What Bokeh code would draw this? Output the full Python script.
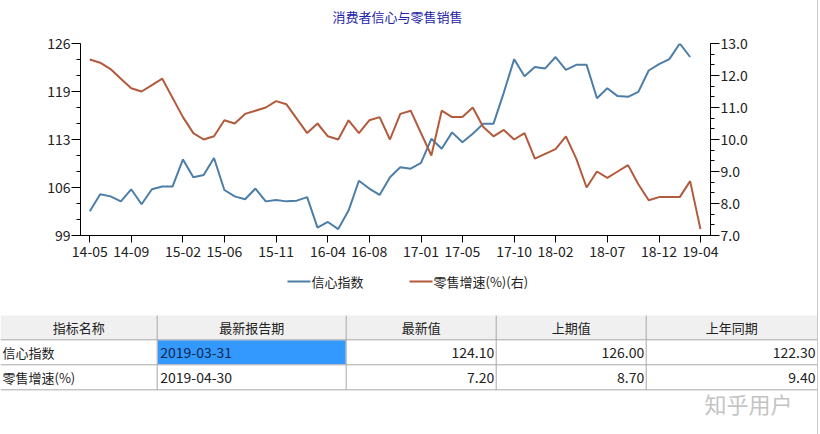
import pandas as pd
from bokeh.plotting import figure
from bokeh.models import (Range1d, LinearAxis, FixedTicker, CustomJSTickFormatter,
                          PrintfTickFormatter, Div)
from bokeh.layouts import column, row
from bokeh.embed import file_html
from bokeh.resources import INLINE
from bokeh.core.properties import value

# ---------------- data ----------------
months = [p.strftime("%y-%m") for p in pd.period_range("2014-05", "2019-04", freq="M")]

confidence = [
    102.4, 104.8, 104.5, 103.8, 105.5, 103.4, 105.5, 105.9,            # 2014-05..12
    105.9, 109.7, 107.2, 107.5, 109.9, 105.4, 104.5, 104.1, 105.6, 103.8, 104.0, 103.8,  # 2015
    103.9, 104.4, 100.1, 100.9, 99.9, 102.5, 106.7, 105.6, 104.7, 107.2, 108.6, 108.4,    # 2016
    109.2, 112.6, 111.2, 113.5, 112.1, 113.3, 114.7, 114.7, 119.1, 123.8, 121.4, 122.7,   # 2017
    122.5, 124.1, 122.3, 123.0, 123.0, 118.3, 119.7, 118.6, 118.5, 119.2, 122.2, 123.1,   # 2018
    123.8, 126.0, 124.1, None,                                             # 2019-01..04
]

retail = [
    12.5, 12.4, 12.2, 11.9, 11.6, 11.5, 11.7, 11.9,                        # 2014-05..12
    None, 10.7, 10.2, 10.0, 10.1, 10.6, 10.5, 10.8, 10.9, 11.0, 11.2, 11.1,  # 2015
    None, 10.2, 10.5, 10.1, 10.0, 10.6, 10.2, 10.6, 10.7, 10.0, 10.8, 10.9,  # 2016
    None, 9.5, 10.9, 10.7, 10.7, 11.0, 10.4, 10.1, 10.3, 10.0, 10.2, 9.4,    # 2017
    None, 9.7, 10.1, 9.4, 8.5, 9.0, 8.8, 9.0, 9.2, 8.6, 8.1, 8.2,            # 2018
    None, 8.2, 8.7, 7.2,                                                   # 2019-01..04
]

tick_labels = ["14-05", "14-09", "15-02", "15-06", "15-11", "16-04", "16-08",
               "17-01", "17-05", "17-10", "18-02", "18-07", "18-12", "19-04"]

left_ticks = [99, 105.75, 112.5, 119.25, 126]
right_ticks = [7, 8, 9, 10, 11, 12, 13]

title_text = "消费者信心与零售销售"
series_names = ["信心指数", "零售增速(%)(右)"]

table_header = ["指标名称", "最新报告期", "最新值", "上期值", "上年同期"]
table_names = ["信心指数", "零售增速(%)"]
table_dates = ["2019-03-31", "2019-04-30"]
table_latest = ["124.10", "7.20"]
table_prev = ["126.00", "8.70"]
table_yoy = ["122.30", "9.40"]
watermark = "知乎用户"

# ---------------- styles ----------------
BLUE = "#4d7ea8"
RED = "#b35a3c"
FONT = "Noto Sans CJK SC"
TXT = "#222222"
GRIDC = "#a8a8a8"

x_conf = [i for i, v in enumerate(confidence) if v is not None]
y_conf = [v for v in confidence if v is not None]
x_ret = [i for i, v in enumerate(retail) if v is not None]
y_ret = [v for v in retail if v is not None]
tick_pos = [months.index(t) for t in tick_labels]

W = 817
H0, H1, H2 = 30, 240, 164


def no_align(fig):
    try:
        fig.frame_align = False
    except Exception:
        pass


def pixel_fig(h):
    f = figure(width=W, height=h, x_range=Range1d(0, W), y_range=Range1d(h, 0),
               output_backend="svg", toolbar_location=None, min_border=0,
               x_axis_type=None, y_axis_type=None)
    f.outline_line_color = None
    f.xgrid.visible = False
    f.ygrid.visible = False
    no_align(f)
    return f


# ---------------- title strip ----------------
p0 = pixel_fig(H0)
p0.text(x=[397], y=[16], text=[title_text], text_font=value(FONT), text_font_size="13px",
        text_color="#2424a8", text_align="center", text_baseline="middle")

# ---------------- chart ----------------
p1 = figure(width=W, height=H1, x_range=Range1d(-0.9, 59.97), y_range=Range1d(99, 126),
            output_backend="svg", toolbar_location=None,
            min_border_left=80, min_border_right=W - 710, min_border_top=13,
            min_border_bottom=35)
no_align(p1)
p1.outline_line_color = None
p1.xgrid.visible = False
p1.ygrid.visible = False

xa = p1.xaxis[0]
xa.ticker = FixedTicker(ticks=tick_pos)
xa.major_label_overrides = {pos: lab for pos, lab in zip(tick_pos, tick_labels)}
xa.major_tick_out = 7
xa.major_tick_in = 0
xa.minor_tick_out = 0
xa.minor_tick_in = 0
xa.major_label_standoff = 3

ya = p1.yaxis[0]
ya.ticker = FixedTicker(ticks=left_ticks, minor_ticks=[99 + 2.25 * k for k in range(13)])
ya.formatter = CustomJSTickFormatter(code="return Math.round(tick).toString();")
ya.major_tick_out = 9
ya.major_tick_in = 0
ya.minor_tick_out = 4
ya.minor_tick_in = 0
ya.major_label_standoff = 1

p1.extra_y_ranges = {"r": Range1d(7, 13)}
ra = LinearAxis(y_range_name="r",
                ticker=FixedTicker(ticks=right_ticks, minor_ticks=[7 + k / 3 for k in range(19)]),
                formatter=PrintfTickFormatter(format="%.1f"))
ra.major_tick_out = 9
ra.major_tick_in = 0
ra.minor_tick_out = 4
ra.minor_tick_in = 0
ra.major_label_standoff = 1
p1.add_layout(ra, "right")

for ax in (xa, ya, ra):
    ax.axis_line_color = "#000000"
    ax.major_tick_line_color = "#000000"
    ax.minor_tick_line_color = "#000000"
    ax.major_label_text_font = FONT
    ax.major_label_text_font_size = "14px"
    ax.major_label_text_color = TXT

p1.line(x_conf, y_conf, line_color=BLUE, line_width=2)
p1.line(x_ret, y_ret, line_color=RED, line_width=2, y_range_name="r")

# ---------------- legend + table (pixel space, y measured from top of this strip) ----------------
p2 = pixel_fig(H2)

LY = 11
p2.segment(x0=[287, 409], y0=[LY, LY], x1=[310, 432], y1=[LY, LY],
           line_color=[BLUE, RED], line_width=2)
p2.text(x=[311, 433], y=[LY, LY], text=series_names, text_font=value(FONT),
        text_font_size="13px", text_color=TXT, text_align="left", text_baseline="middle")

col_edges = [0, 156.7, 345.7, 495.7, 645.7, 817]
row_edges = [45, 69.3, 94.3, 119.3]

p2.quad(left=[0], right=[col_edges[-1]], top=[row_edges[0]], bottom=[row_edges[1]],
        fill_color="#f0f0f0", line_color=None)
p2.quad(left=[col_edges[1] + 0.5], right=[col_edges[2] - 0.5], top=[row_edges[1] + 0.5],
        bottom=[row_edges[2] - 0.5], fill_color="#3399ff", line_color=None)

p2.segment(x0=[0] * 3, x1=[col_edges[-1]] * 3, y0=row_edges[1:], y1=row_edges[1:],
           line_color=GRIDC, line_width=1)
inner = col_edges[1:-1]
p2.segment(x0=inner, x1=inner, y0=[row_edges[0]] * len(inner), y1=[row_edges[-1]] * len(inner),
           line_color=GRIDC, line_width=1)

hy = (row_edges[0] + row_edges[1]) / 2
centers = [(col_edges[i] + col_edges[i + 1]) / 2 for i in range(5)]
p2.text(x=centers, y=[hy] * 5, text=table_header, text_font=value(FONT),
        text_font_size="13px", text_color=TXT, text_align="center", text_baseline="middle")

ry = [(row_edges[1] + row_edges[2]) / 2, (row_edges[2] + row_edges[3]) / 2]
p2.text(x=[2, 2], y=ry, text=table_names, text_font=value(FONT), text_font_size="13px",
        text_color=TXT, text_align="left", text_baseline="middle")
p2.text(x=[col_edges[1] + 3] * 2, y=ry, text=table_dates, text_font=value(FONT),
        text_font_size="14px", text_color=["#10264a", TXT], text_align="left",
        text_baseline="middle")
for ci, vals in zip([3, 4, 5], [table_latest, table_prev, table_yoy]):
    p2.text(x=[col_edges[ci] - 2] * 2, y=ry, text=vals, text_font=value(FONT),
            text_font_size="14px", text_color=TXT, text_align="right", text_baseline="middle")

p2.text(x=[748], y=[132], text=[watermark], text_font=value(FONT), text_font_size="22px",
        text_color="#c4c4c4", text_align="center", text_baseline="middle")

edge = Div(width=1, height=H0 + H1 + H2, margin=0,
           styles={"background-color": "#c8c8c8"})

layout = row(column(p0, p1, p2, spacing=0), edge, spacing=0)
open("out.html", "w").write(file_html(layout, INLINE))
